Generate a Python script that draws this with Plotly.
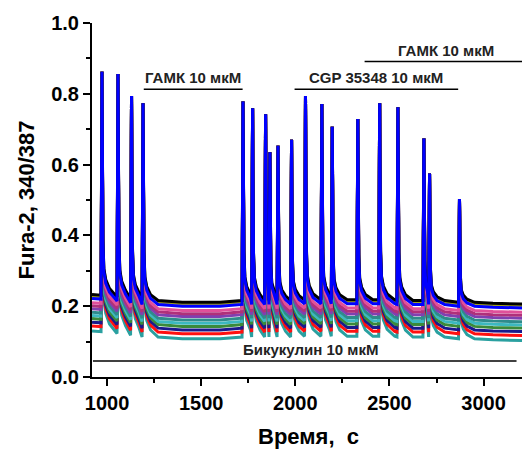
import plotly.graph_objects as go

# ---- data ----
spike_t = [973, 1058, 1130, 1191, 1722, 1773, 1842, 1865, 1908, 1980,
           2054, 2141, 2196, 2332, 2448, 2545, 2683, 2713, 2872]
spike_peak = [0.862, 0.856, 0.794, 0.773, 0.778, 0.759, 0.742, 0.635, 0.653, 0.670,
              0.794, 0.771, 0.707, 0.729, 0.773, 0.762, 0.674, 0.575, 0.503]
spike_base = [0.220, 0.215, 0.210, 0.205, 0.205, 0.205, 0.205, 0.205, 0.205, 0.205,
              0.207, 0.207, 0.207, 0.207, 0.207, 0.205, 0.205, 0.205, 0.200]
quiet_t = [920, 1400, 1600, 3050, 3220]
quiet_base = [0.222, 0.200, 0.200, 0.197, 0.195]
# spike profile: time after peak (s) and fraction of amplitude
shape_dt = [-5, 0, 5, 10, 20, 40, 80]
shape_frac = [0.0, 1.0, 0.25, 0.12, 0.07, 0.03, 0.0]

cell_colors = ["#2AA0A0", "#FF1010", "#1A1A8C", "#3A8A3A", "#3CB8C0", "#2E8B8B",
               "#8040B0", "#B0307A", "#E0509A", "#A0A020", "#000000", "#0000FF"]
cell_offset = [-0.092, -0.078, -0.067, -0.057, -0.048, -0.039,
               -0.029, -0.021, -0.012, 0.007, 0.011, 0.0]

drug_labels = ["ГАМК 10 мкМ", "CGP 35348 10 мкМ", "ГАМК 10 мкМ", "Бикукулин 10 мкМ"]
drug_start = [1195, 1996, 2368, 925]
drug_end = [1720, 2865, 3228, 3175]
drug_level = [0.813, 0.813, 0.891, 0.045]
drug_label_x = [1457, 2430, 2798, 2083]

x_ticks = [1000, 1500, 2000, 2500, 3000]
y_ticks = [0.0, 0.2, 0.4, 0.6, 0.8, 1.0]

FONT = "Liberation Sans, Arial, sans-serif"

fig = go.Figure()

for color, off in zip(cell_colors, cell_offset):
    pts = [(t, b + off) for t, b in zip(quiet_t, quiet_base)]
    for i, (t0, pk, b) in enumerate(zip(spike_t, spike_peak, spike_base)):
        nxt = spike_t[i + 1] - 5 if i + 1 < len(spike_t) else 1e9
        base = b + off
        for dt, fr in zip(shape_dt, shape_frac):
            if dt <= 0 or t0 + dt < nxt:
                pts.append((t0 + dt, base + fr * (pk - base)))
    pts.sort(key=lambda p: p[0])
    fig.add_trace(go.Scatter(x=[p[0] for p in pts], y=[p[1] for p in pts],
                             mode="lines", line=dict(color=color, width=3),
                             hoverinfo="skip", showlegend=False))

for lab, s, e, lv, lx in zip(drug_labels, drug_start, drug_end, drug_level, drug_label_x):
    fig.add_shape(type="line", x0=s, x1=e, y0=lv, y1=lv, xref="x", yref="y",
                  line=dict(color="black", width=1.5))
    fig.add_annotation(x=lx, y=lv, xref="x", yref="y", text="<b>%s</b>" % lab,
                       showarrow=False, yanchor="bottom", yshift=1,
                       font=dict(family=FONT, size=15, color="#222"))

# the page body adds an 8px margin, so the figure is 8px smaller on each side
fig.update_layout(
    width=522, height=442,
    margin=dict(l=84, r=5, t=15, b=73),
    paper_bgcolor="white", plot_bgcolor="white",
    showlegend=False,
    xaxis=dict(range=[920, 3220], tickvals=x_ticks, ticktext=[str(v) for v in x_ticks],
               automargin=False,
               showgrid=False, zeroline=False, showline=True, linecolor="black", linewidth=2,
               ticks="outside", ticklen=7, tickwidth=2, tickcolor="black",
               minor=dict(ticks="outside", ticklen=4, tickwidth=2, tickcolor="black", dtick=250),
               tickfont=dict(family=FONT, size=20, color="black", weight="bold"),
               title=dict(text="<b>Время,  с</b>", font=dict(family=FONT, size=22, color="black"),
                          standoff=16)),
    yaxis=dict(range=[0, 1.0], tickvals=y_ticks, ticktext=["%.1f" % v for v in y_ticks],
               automargin=False,
               showgrid=False, zeroline=False, showline=True, linecolor="black", linewidth=2,
               ticks="outside", ticklen=7, tickwidth=2, tickcolor="black",
               minor=dict(ticks="outside", ticklen=4, tickwidth=2, tickcolor="black", dtick=0.1),
               tickfont=dict(family=FONT, size=20, color="black", weight="bold"),
               title=dict(text="<b>Fura-2, 340/387</b>", font=dict(family=FONT, size=22, color="black"),
                          standoff=10)),
)

fig.write_html("out.html")
